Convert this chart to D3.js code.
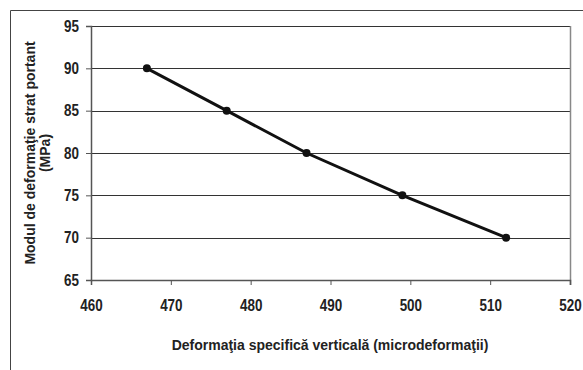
<!DOCTYPE html>
<html><head><meta charset="utf-8">
<script src="https://cdn.jsdelivr.net/npm/d3@7"></script>
<style>
html,body{margin:0;padding:0;background:#fff;}
svg{display:block;}
text{font-family:"Liberation Sans",Arial,sans-serif;font-weight:bold;fill:#222;}
</style></head>
<body>
<script>
const xValues = [467, 477, 487, 499, 512];
const yValues = [90, 85, 80, 75, 70];
const xTicks = [460, 470, 480, 490, 500, 510, 520];
const yTicks = [65, 70, 75, 80, 85, 90, 95];
const xTitle = "Deformaţia specifică verticală (microdeformaţii)";
const yTitle = ["Modul de deformaţie strat portant", "(MPa)"];

const W = 583, H = 370;
const svg = d3.select("body").append("svg").attr("width", W).attr("height", H);
const L = 91, R = 570, T = 26, B = 280;
const x = d3.scaleLinear().domain([460, 520]).range([L, R]);
const y = d3.scaleLinear().domain([65, 95]).range([B, T]);
const SX = 0.84;

// outer frame (top and left)
svg.append("line").attr("x1", 10.5).attr("x2", W).attr("y1", 10.5).attr("y2", 10.5).attr("stroke", "#444").attr("stroke-width", 1);
svg.append("line").attr("x1", 10.5).attr("x2", 10.5).attr("y1", 10.5).attr("y2", H).attr("stroke", "#444").attr("stroke-width", 1);

// gridlines
svg.append("g").selectAll("line").data(yTicks.filter(d => d > 65)).join("line")
  .attr("x1", L).attr("x2", R).attr("y1", d => Math.round(y(d)) + 0.5).attr("y2", d => Math.round(y(d)) + 0.5)
  .attr("stroke", "#333").attr("stroke-width", 1);

// right border of plot
svg.append("line").attr("x1", R + 0.5).attr("x2", R + 0.5).attr("y1", T).attr("y2", B + 5).attr("stroke", "#888").attr("stroke-width", 1.5);

// axes
const yAxis = d3.axisLeft(y).tickValues(yTicks).tickSize(5).tickPadding(7);
const gy = svg.append("g").attr("transform", `translate(${L},0)`).call(yAxis);
gy.select(".domain").attr("stroke", "#555").attr("stroke-width", 1.5);
gy.selectAll(".tick line").attr("stroke", "#555");
gy.selectAll(".tick text").style("font-size", "16px").style("font-weight", "bold").attr("fill", "#222")
  .attr("x", -12 / SX).attr("transform", `scale(${SX},1)`);

const xAxis = d3.axisBottom(x).tickValues(xTicks).tickSize(5).tickPadding(15);
const gx = svg.append("g").attr("transform", `translate(0,${B})`).call(xAxis);
gx.select(".domain").attr("stroke", "#555").attr("stroke-width", 1.5);
gx.selectAll(".tick line").attr("stroke", "#555");
gx.selectAll(".tick text").style("font-size", "16px").style("font-weight", "bold").attr("fill", "#222")
  .attr("transform", `scale(${SX},1)`);

// line
const pts = xValues.map((v, i) => [v, yValues[i]]);
svg.append("path").datum(pts)
  .attr("d", d3.line().x(d => x(d[0])).y(d => y(d[1])))
  .attr("fill", "none").attr("stroke", "#111").attr("stroke-width", 3);
svg.append("g").selectAll("circle").data(pts).join("circle")
  .attr("cx", d => x(d[0])).attr("cy", d => y(d[1])).attr("r", 4).attr("fill", "#111");

// titles
svg.append("text").attr("x", 330).attr("y", 350).attr("text-anchor", "middle")
  .style("font-size", "14px").text(xTitle);
const yt = svg.append("text").attr("transform", `translate(35,${(T + B) / 2}) rotate(-90)`)
  .attr("text-anchor", "middle").style("font-size", "14px");
yt.append("tspan").attr("x", 0).attr("dy", 0).text(yTitle[0]);
yt.append("tspan").attr("x", 0).attr("dy", 15).text(yTitle[1]);
</script>
</body></html>
